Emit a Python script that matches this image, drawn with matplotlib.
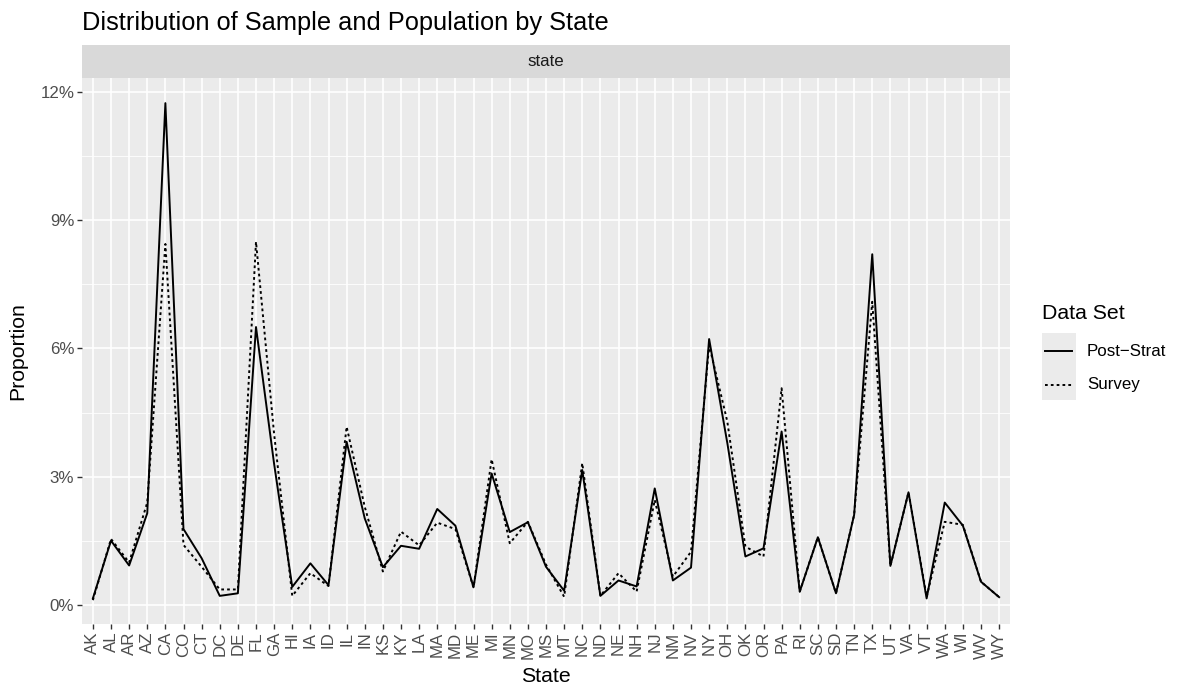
import matplotlib.pyplot as plt
import numpy as np
from matplotlib.lines import Line2D
from matplotlib.patches import Rectangle

plt.rcParams['font.family'] = ['Liberation Sans', 'DejaVu Sans']

states = ["AK", "AL", "AR", "AZ", "CA", "CO", "CT", "DC", "DE", "FL", "GA", "HI", "IA",
          "ID", "IL", "IN", "KS", "KY", "LA", "MA", "MD", "ME", "MI", "MN", "MO", "MS",
          "MT", "NC", "ND", "NE", "NH", "NJ", "NM", "NV", "NY", "OH", "OK", "OR", "PA",
          "RI", "SC", "SD", "TN", "TX", "UT", "VA", "VT", "WA", "WI", "WV", "WY"]

# proportions in percent
post_strat = [0.16, 1.51, 0.93, 2.15, 11.73, 1.78, 1.10, 0.22, 0.28, 6.50, 3.30, 0.43, 0.98,
              0.47, 3.82, 2.03, 0.89, 1.39, 1.32, 2.25, 1.86, 0.42, 3.08, 1.71, 1.94, 0.90,
              0.34, 3.16, 0.22, 0.58, 0.44, 2.73, 0.58, 0.88, 6.22, 3.80, 1.14, 1.33, 4.06,
              0.32, 1.59, 0.28, 2.11, 8.20, 0.92, 2.64, 0.16, 2.40, 1.86, 0.55, 0.19]

survey = [0.12, 1.55, 1.00, 2.40, 8.44, 1.41, 0.90, 0.37, 0.37, 8.49, 4.00, 0.22, 0.75,
          0.45, 4.17, 2.30, 0.79, 1.72, 1.40, 1.93, 1.78, 0.42, 3.41, 1.45, 1.95, 0.95,
          0.20, 3.32, 0.22, 0.75, 0.32, 2.46, 0.67, 1.25, 6.08, 4.30, 1.37, 1.14, 5.07,
          0.32, 1.59, 0.28, 2.11, 7.09, 0.92, 2.64, 0.20, 1.95, 1.88, 0.55, 0.19]

W, H = 1179, 691
fig = plt.figure(figsize=(W / 100, H / 100), dpi=100)

def fx(x):
    return x / W

def fy(y):
    return 1 - y / H

# panel and strip positions (pixels)
pl, pr, pt, pb = 82, 1010, 78.3, 624
st = 45
txt = 12.2

ax = fig.add_axes([fx(pl), fy(pb), fx(pr - pl), (pb - pt) / H])
ax.set_facecolor("#EBEBEB")
for s in ax.spines.values():
    s.set_visible(False)

x = np.arange(len(states))
ax.plot(x, post_strat, color="black", lw=1.4, zorder=3)
ax.plot(x, survey, color="black", lw=1.4, linestyle=(0, (1.4, 1.6)), zorder=3)

ax.set_xlim(-0.6, len(states) - 1 + 0.6)
ax.set_ylim(-0.437, 12.31)
yt = [0, 3, 6, 9, 12]
ax.set_yticks(yt)
ax.set_yticklabels([f"{v}%" for v in yt])
ax.set_yticks([1.5, 4.5, 7.5, 10.5], minor=True)
ax.set_xticks(x)
ax.set_xticklabels(states, rotation=90)
ax.grid(which="major", color="white", lw=1.2)
ax.grid(which="minor", axis="y", color="white", lw=0.6)
ax.set_axisbelow(True)
ax.tick_params(which="major", length=3.5, width=1.0, color="#333333",
               labelcolor="#4D4D4D", labelsize=txt, pad=2)
ax.tick_params(which="minor", length=0)
ax.set_xlabel("State", fontsize=15.3, color="black")
ax.set_ylabel("Proportion", fontsize=15.3, color="black")
ax.xaxis.set_label_coords(0.5, (pb - 677) / (pb - pt))
ax.yaxis.set_label_coords((18 - pl) / (pr - pl), 0.5)
ax.xaxis.label.set_va("center")
ax.yaxis.label.set_va("center")

# facet strip
sax = fig.add_axes([fx(pl), fy(pt), fx(pr - pl), (pt - st) / H])
sax.set_facecolor("#D9D9D9")
sax.set_xticks([])
sax.set_yticks([])
for s in sax.spines.values():
    s.set_visible(False)
sax.text(0.5, 0.5, "state", ha="center", va="center", fontsize=txt, color="#1A1A1A",
         transform=sax.transAxes)

fig.text(fx(pl), fy(23), "Distribution of Sample and Population by State",
         fontsize=18.3, ha="left", va="center")

# legend
fig.text(fx(1042), fy(314), "Data Set", fontsize=15.3, ha="left", va="center")
fig.add_artist(Rectangle((fx(1042), fy(400)), fx(34), 67 / H, transform=fig.transFigure,
                         facecolor="#EBEBEB", edgecolor="none"))
fig.add_artist(Line2D([fx(1045), fx(1072)], [fy(351), fy(351)], transform=fig.transFigure,
                      color="black", lw=1.4))
fig.add_artist(Line2D([fx(1045), fx(1072)], [fy(385), fy(385)], transform=fig.transFigure,
                      color="black", lw=1.4, linestyle=(0, (1.4, 1.6))))
fig.text(fx(1087), fy(351), "Post\u2212Strat", fontsize=txt, ha="left", va="center")
fig.text(fx(1087), fy(385), "Survey", fontsize=txt, ha="left", va="center")

fig.savefig("out.png", dpi=100)
